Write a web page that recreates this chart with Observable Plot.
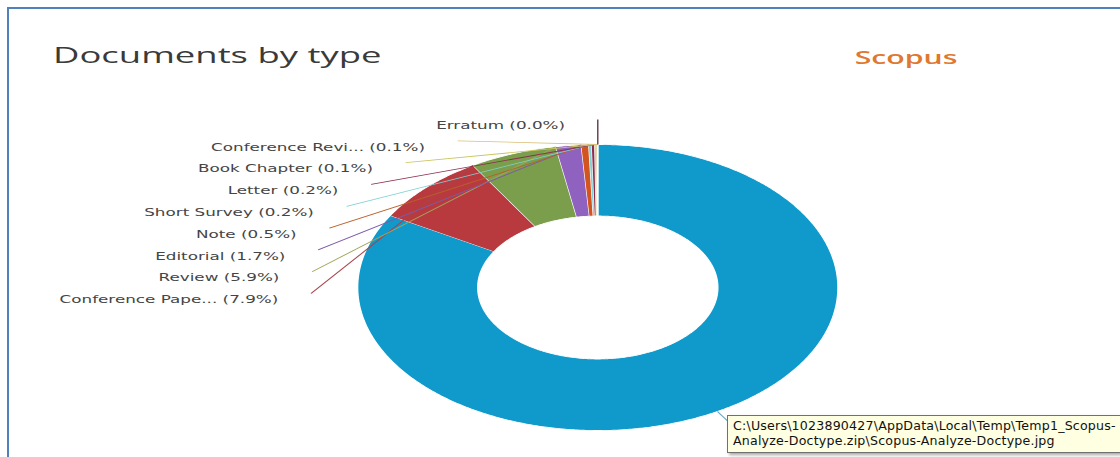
<!DOCTYPE html>
<html><head><meta charset="utf-8">
<script src="https://cdn.jsdelivr.net/npm/d3@7"></script>
<script src="https://cdn.jsdelivr.net/npm/@observablehq/plot@0.6"></script>
<style>
html,body{margin:0;padding:0;background:#fff;overflow:hidden;width:1120px;height:457px;}
#page{position:relative;width:1120px;height:457px;overflow:hidden;background:#fff;}
#stretch{position:absolute;left:0;top:0;width:667px;height:457px;transform:scaleX(1.6792);transform-origin:0 0;overflow:hidden;}
#stretch svg{position:absolute;left:0;top:0;}
#frame{position:absolute;left:0;top:0;}
#tip{position:absolute;left:727px;top:415px;width:393px;height:38px;background:#ffffe1;border:1px solid #707070;border-right:none;box-sizing:border-box;box-shadow:2px 2px 3px rgba(0,0,0,0.35);font-family:"DejaVu Sans",sans-serif;font-size:12.6px;letter-spacing:0.2px;line-height:15px;color:#111;padding:2px 0 0 5px;white-space:nowrap;overflow:hidden;}
</style></head>
<body>
<div id="page">
  <div id="stretch">
    <svg id="titles" width="667" height="100">
      <text x="31.6" y="63" font-family="Open Sans" font-size="21.7" fill="#3a3a3a">Documents by type</text>
      <text x="509" y="64.5" font-family="Open Sans" font-weight="600" font-size="18" fill="#e0782f">Scopus</text>
    </svg>
  </div>
  <svg id="frame" width="1120" height="457"><path d="M8,457V8H1120" fill="none" stroke="#4f81bd" stroke-width="2"/></svg>
  <div id="tip">C:\Users\1023890427\AppData\Local\Temp\Temp1_Scopus-<br>Analyze-Doctype.zip\Scopus-Analyze-Doctype.jpg</div>
</div>
<script>
const types = ["Article","Conference Paper","Review","Editorial","Note","Short Survey","Letter","Book Chapter","Conference Review","Erratum"];
const shortNames = ["Article","Conference Pape...","Review","Editorial","Note","Short Survey","Letter","Book Chapter","Conference Revi...","Erratum"];
const percents = [83.4,7.9,5.9,1.7,0.5,0.2,0.2,0.1,0.1,0.0];
const colors = ["#109acb","#b83a3f","#7a9e4b","#9062bf","#d2541e","#7fd3d6","#8e2b4e","#c9c45a","#d9c07a","#5a3040"];
const lineColors = ["#6fa8c4","#a8434b","#a3a55a","#7c5aa8","#b8602a","#7fd3d6","#8e2b4e","#c9c45a","#d9c07a","#5a3040"];

const total = d3.sum(percents);
const inner = 0.5;
let cum = 0;
const slices = types.map((t, i) => {
  const a0 = cum / total * 2 * Math.PI;
  cum += percents[i];
  const a1 = cum / total * 2 * Math.PI;
  return {type: t, i, a0, a1, color: colors[i]};
});

// slice polygons
const poly = [];
for (const s of slices) {
  const n = Math.max(2, Math.ceil((s.a1 - s.a0) / (Math.PI / 360)));
  for (let k = 0; k <= n; k++) {
    const a = s.a0 + (s.a1 - s.a0) * k / n;
    poly.push({type: s.type, color: s.color, x: Math.sin(a), y: Math.cos(a)});
  }
  for (let k = n; k >= 0; k--) {
    const a = s.a0 + (s.a1 - s.a0) * k / n;
    poly.push({type: s.type, color: s.color, x: inner * Math.sin(a), y: inner * Math.cos(a)});
  }
}

// label layout on the left: stacked from the bottom
const lrx = 1.195, lry = 1.175, y0 = -0.042, step = 0.1525;
const labels = slices.slice(1).map((s, k) => {
  const y = Math.min(y0 + k * step, lry);
  const x = -lrx * Math.sqrt(Math.max(0, 1 - (y / lry) ** 2));
  return {
    text: `${shortNames[s.i]} (${percents[s.i].toFixed(1)}%)`,
    x1: x, y1: y,
    x2: Math.sin(s.a1), y2: Math.cos(s.a1),
    color: lineColors[s.i]
  };
});
// Article connector (its label is hidden by the tooltip)
const art = slices[0];
const am = (art.a0 + art.a1) / 2;
const artLink = [{x1: Math.sin(am), y1: Math.cos(am), x2: lrx * Math.sin(am), y2: lry * Math.cos(am), color: lineColors[0]}];

const W = 667, H = 457, cx = 355.5, cy = 287, R = 143;
const chart = Plot.plot({
  width: W, height: H, margin: 0,
  x: {domain: [-cx / R, (W - cx) / R], axis: null},
  y: {domain: [(cy - H) / R, cy / R], axis: null},
  color: {type: "identity"},
  style: {background: "transparent", overflow: "visible"},
  marks: [
    Plot.line(poly, {x: "x", y: "y", z: "type", fill: "color", stroke: "white", strokeWidth: 0.8, strokeLinejoin: "round"}),
    Plot.link(labels, {x1: "x1", y1: "y1", x2: "x2", y2: "y2", stroke: "color", strokeWidth: 0.8}),
    Plot.link(artLink, {x1: "x1", y1: "y1", x2: "x2", y2: "y2", stroke: "color", strokeWidth: 0.8}),
    Plot.text(labels, {x: "x1", y: "y1", text: "text", textAnchor: "end", dx: -19.5, dy: 6.5, fontSize: 10, fontFamily: "DejaVu Sans", fill: "#454545"})
  ]
});
document.getElementById("stretch").insertBefore(chart, document.getElementById("titles"));
</script>
</body></html>
